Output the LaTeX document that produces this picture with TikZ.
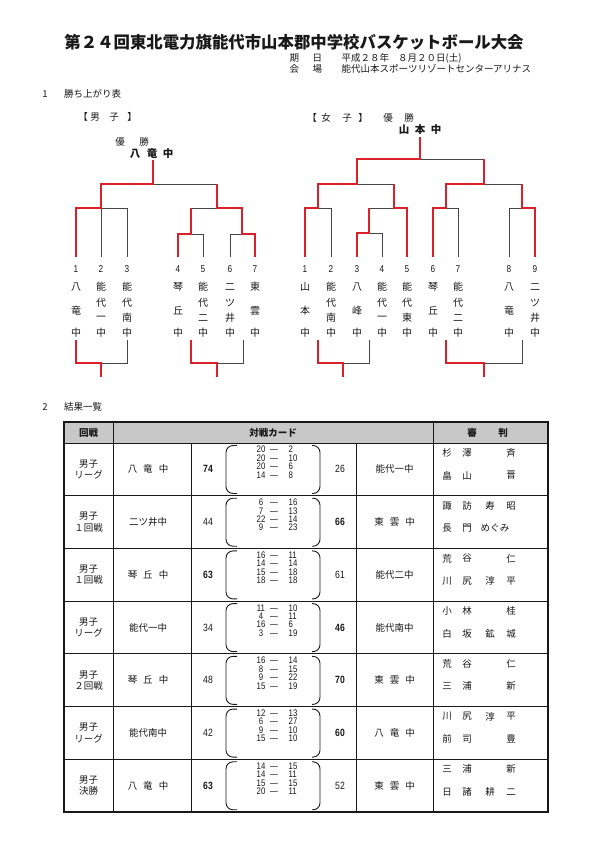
\documentclass[tikz,border=0pt]{standalone}
\usepackage{fontspec}
\setmainfont{Noto Sans CJK JP}
\newfontfamily\narrow[FakeStretch=0.82]{Liberation Sans}
\definecolor{redc}{RGB}{218,32,42}
\definecolor{grayc}{RGB}{70,70,70}
\definecolor{hdr}{RGB}{200,200,200}
\definecolor{ink}{RGB}{25,25,25}
\tikzset{
  win/.style={draw=redc,line width=2.4pt},
  lose/.style={draw=grayc,line width=0.9pt},
  tt/.style={inner sep=0pt,text=ink,font=\fontsize{9.5}{9.5}\selectfont},
  hd/.style={inner sep=0pt,text=ink,font=\fontsize{9.5}{9.5}\selectfont\bfseries},
  vt/.style={inner sep=0pt,text=ink,font=\fontsize{10}{10}\selectfont},
  num/.style={inner sep=0pt,text=ink,font=\fontsize{10}{10}\selectfont\narrow},
  pr/.style={inner sep=0pt,text=ink,text height=6.9pt,text depth=0pt,font=\fontsize{9.5}{9.5}\selectfont\narrow},
  sc/.style={inner sep=0pt,text=ink,font=\fontsize{10.5}{10.5}\selectfont\narrow},
  tline/.style={draw=ink,line width=0.8pt},
  paren/.style={draw=ink,line width=0.9pt,rounded corners=7pt}
}
\newcommand\teamthree[6]{%
  \node[num] (#1n) at (#2,269) {#3};
  \node[vt] (#1a) at (#2,287) {#4};
  \node[vt] (#1b) at (#2,311) {#5};
  \node[vt] (#1c) at (#2,333) {#6};}
\newcommand\teamfour[7]{%
  \node[num] (#1n) at (#2,269) {#3};
  \node[vt] (#1a) at (#2,287) {#4};
  \node[vt] (#1b) at (#2,303) {#5};
  \node[vt] (#1c) at (#2,318) {#6};
  \node[vt] (#1d) at (#2,333) {#7};}
\newcommand\refslot[1]{\ifcase#1\or447\or467\or490\or511\or495\fi}
\newcommand\resrow[9]{%
  \pgfmathsetmacro\rt{443+#1*52.714}
  \pgfmathsetmacro\rc{\rt+26.36}
  \node[tt] (r#1a) at (88.5,\rc-5.5) {男子};
  \node[tt] (r#1b) at (88.5,\rc+5.5) {#2};
  \node[tt] (r#1c) at (148,\rc) {#3};
  \node[sc] (r#1d) at (208,\rc) {#4};
  \foreach \a/\b [count=\k] in {#5} {
    \pgfmathsetmacro\py{\rt+6.5+8.4*(\k-1)}
    \node[pr] (r#1pl\k) at (261,\py) {\a};
    \node[pr] (r#1pd\k) at (274,\py) {—};
    \node[pr,anchor=west] (r#1pr\k) at (288.5,\py) {\b};
  }
  \draw[paren] (237,\rt+2.5) -- (226,\rt+2.5) -- (226,\rt+50.5) -- (237,\rt+50.5);
  \draw[paren] (312,\rt+2.5) -- (320,\rt+2.5) -- (320,\rt+50.5) -- (312,\rt+50.5);
  \node[sc] (r#1e) at (340,\rc) {#6};
  \node[tt] (r#1f) at (394.5,\rc) {#7};
  \foreach \s/\c [count=\k] in {#8} {
    \edef\sx{\refslot{\s}}
    \node[tt] (r#1g\k) at (\sx,\rt+10) {\c};
  }
  \foreach \s/\c [count=\k] in {#9} {
    \edef\sx{\refslot{\s}}
    \node[tt] (r#1h\k) at (\sx,\rt+32.5) {\c};
  }
}
\begin{document}
\begin{tikzpicture}[x=1pt,y=-1pt]
\useasboundingbox (0,0) rectangle (595,842);
\fill[white] (0,0) rectangle (595,842);

% title
\node[inner sep=0pt,text=ink,font=\fontsize{16.4}{16.4}\selectfont\bfseries] (title) at (294,42)
  {第２４回東北電力旗能代市山本郡中学校バスケットボール大会};
\node[tt,anchor=west] (k1) at (289.5,58) {期};
\node[tt,anchor=west] (k2) at (312.5,58) {日};
\node[tt,anchor=west] (k3) at (341.5,58) {平成２８年\hspace{9pt}８月２０日(土)};
\node[tt,anchor=west] (v1) at (289.5,69) {会};
\node[tt,anchor=west] (v2) at (312.5,69) {場};
\node[tt,anchor=west] (v3) at (341.5,69) {能代山本スポーツリゾートセンターアリナス};

% section 1
\node[tt] (s1n) at (45,94) {1};
\node[tt,anchor=west] (s1t) at (64,94) {勝ち上がり表};

% male header
\node[tt] (mb1) at (83,117) {【};
\node[tt] (mb2) at (95,117) {男};
\node[tt] (mb3) at (114,117) {子};
\node[tt] (mb4) at (132,117) {】};
\node[tt] (mw1) at (120,142) {優};
\node[tt] (mw2) at (144,142) {勝};
\node[hd,font=\fontsize{10.5}{10.5}\selectfont\bfseries] (mc1) at (135,153.5) {八};
\node[hd,font=\fontsize{10.5}{10.5}\selectfont\bfseries] (mc2) at (152,153.5) {竜};
\node[hd,font=\fontsize{10.5}{10.5}\selectfont\bfseries] (mc3) at (168,153.5) {中};

% female header
\node[tt] (fb1) at (312,118) {【};
\node[tt] (fb2) at (326,118) {女};
\node[tt] (fb3) at (347,118) {子};
\node[tt] (fb4) at (363,118) {】};
\node[tt] (fw1) at (388,118) {優};
\node[tt] (fw2) at (409,118) {勝};
\node[hd,font=\fontsize{10.5}{10.5}\selectfont\bfseries] (fc1) at (404,130) {山};
\node[hd,font=\fontsize{10.5}{10.5}\selectfont\bfseries] (fc2) at (420,130) {本};
\node[hd,font=\fontsize{10.5}{10.5}\selectfont\bfseries] (fc3) at (436,130) {中};

% male teams
\teamthree{m1}{76}{1}{八}{竜}{中}
\teamfour{m2}{101}{2}{能}{代}{一}{中}
\teamfour{m3}{127}{3}{能}{代}{南}{中}
\teamthree{m4}{178}{4}{琴}{丘}{中}
\teamfour{m5}{203}{5}{能}{代}{二}{中}
\teamfour{m6}{230}{6}{二}{ツ}{井}{中}
\teamthree{m7}{255}{7}{東}{雲}{中}

% female teams
\teamthree{f1}{305}{1}{山}{本}{中}
\teamfour{f2}{331}{2}{能}{代}{南}{中}
\teamthree{f3}{357}{3}{八}{峰}{中}
\teamfour{f4}{382}{4}{能}{代}{一}{中}
\teamfour{f5}{407}{5}{能}{代}{東}{中}
\teamthree{f6}{433}{6}{琴}{丘}{中}
\teamfour{f7}{458}{7}{能}{代}{二}{中}
\teamthree{f8}{509}{8}{八}{竜}{中}
\teamfour{f9}{535}{9}{二}{ツ}{井}{中}

% male bracket (upper)
\draw[lose] (153,184) -- (216.7,184);
\draw[lose] (101,208) -- (127,208) -- (127,257);
\draw[lose] (101,208) -- (101,257);
\draw[lose] (191,208) -- (216.7,208);
\draw[lose] (191,234) -- (203,234) -- (203,257);
\draw[lose] (242,234) -- (230,234) -- (230,257);
\draw[win] (153,160) -- (153,184) -- (101,184) -- (101,208) -- (76,208) -- (76,257);
\draw[win] (216.7,184) -- (216.7,208) -- (242,208) -- (242,234) -- (255,234) -- (255,257);
\draw[win] (191,208) -- (191,234) -- (178,234) -- (178,257);
% male bracket (lower)
\draw[lose] (101,363) -- (127,363) -- (127,340);
\draw[win] (76,340) -- (76,363) -- (101,363) -- (101,377);
\draw[lose] (216.7,363) -- (243,363) -- (243,340);
\draw[win] (191,340) -- (191,363) -- (216.7,363) -- (216.7,377);

% female bracket (upper)
\draw[lose] (420,159) -- (484,159);
\draw[lose] (357,184) -- (394,184);
\draw[lose] (318,208) -- (331,208) -- (331,257);
\draw[lose] (369,208) -- (394,208);
\draw[lose] (369,233) -- (382,233) -- (382,257);
\draw[lose] (484,184) -- (522,184);
\draw[lose] (446,208) -- (458,208) -- (458,257);
\draw[lose] (509,257) -- (509,208) -- (522,208);
\draw[win] (420,137) -- (420,159) -- (357,159) -- (357,184) -- (318,184) -- (318,208) -- (305,208) -- (305,257);
\draw[win] (484,159) -- (484,184) -- (446,184) -- (446,208) -- (433,208) -- (433,257);
\draw[win] (394,184) -- (394,208) -- (407,208) -- (407,257);
\draw[win] (369,208) -- (369,233) -- (357,233) -- (357,257);
\draw[win] (522,184) -- (522,208) -- (535,208) -- (535,257);
% female bracket (lower)
\draw[lose] (343,363) -- (369,363) -- (369,340);
\draw[win] (318,340) -- (318,363) -- (343,363) -- (343,377);
\draw[lose] (484,363) -- (522,363) -- (522,340);
\draw[win] (446,340) -- (446,363) -- (484,363) -- (484,377);

% section 2
\node[tt] (s2n) at (45,407) {2};
\node[tt,anchor=west] (s2t) at (64,407) {結果一覧};

% table
\fill[hdr] (64,422) rectangle (548,443);
\foreach \k in {1,...,6} { \draw[tline] (64,443+52.714*\k) -- (548,443+52.714*\k); }
\draw[tline] (64,443) -- (548,443);
\draw[tline] (113,422) -- (113,812);
\draw[tline] (433,422) -- (433,812);
\draw[tline] (191,443) -- (191,812);
\draw[tline] (356,443) -- (356,812);
\draw[draw=ink,line width=1.1pt] (64,422) rectangle (548,812);
\node[hd] (h1) at (88.5,432.5) {回戦};
\node[hd] (h2) at (273,432.5) {対戦カード};
\node[hd] (h3) at (472,432.5) {審};
\node[hd] (h4) at (503,432.5) {判};

\resrow{0}{リーグ}{八\hspace{6pt}竜\hspace{6pt}中}{\textbf{74}}{20/2,20/10,20/6,14/8}{26}{能代一中}{1/杉,2/澤,4/斉}{1/畠,2/山,4/晋}
\resrow{1}{１回戦}{二ツ井中}{44}{6/16,7/13,22/14,9/23}{\textbf{66}}{東\hspace{6pt}雲\hspace{6pt}中}{1/諏,2/訪,3/寿,4/昭}{1/長,2/門,5/めぐみ}
\resrow{2}{１回戦}{琴\hspace{6pt}丘\hspace{6pt}中}{\textbf{63}}{16/11,14/14,15/18,18/18}{61}{能代二中}{1/荒,2/谷,4/仁}{1/川,2/尻,3/淳,4/平}
\resrow{3}{リーグ}{能代一中}{34}{11/10,4/11,16/6,3/19}{\textbf{46}}{能代南中}{1/小,2/林,4/桂}{1/白,2/坂,3/鉱,4/城}
\resrow{4}{２回戦}{琴\hspace{6pt}丘\hspace{6pt}中}{48}{16/14,8/15,9/22,15/19}{\textbf{70}}{東\hspace{6pt}雲\hspace{6pt}中}{1/荒,2/谷,4/仁}{1/三,2/浦,4/新}
\resrow{5}{リーグ}{能代南中}{42}{12/13,6/27,9/10,15/10}{\textbf{60}}{八\hspace{6pt}竜\hspace{6pt}中}{1/川,2/尻,3/淳,4/平}{1/前,2/司,4/豊}
\resrow{6}{決勝}{八\hspace{6pt}竜\hspace{6pt}中}{\textbf{63}}{14/15,14/11,15/15,20/11}{52}{東\hspace{6pt}雲\hspace{6pt}中}{1/三,2/浦,4/新}{1/日,2/諸,3/耕,4/二}
\end{tikzpicture}
\end{document}
